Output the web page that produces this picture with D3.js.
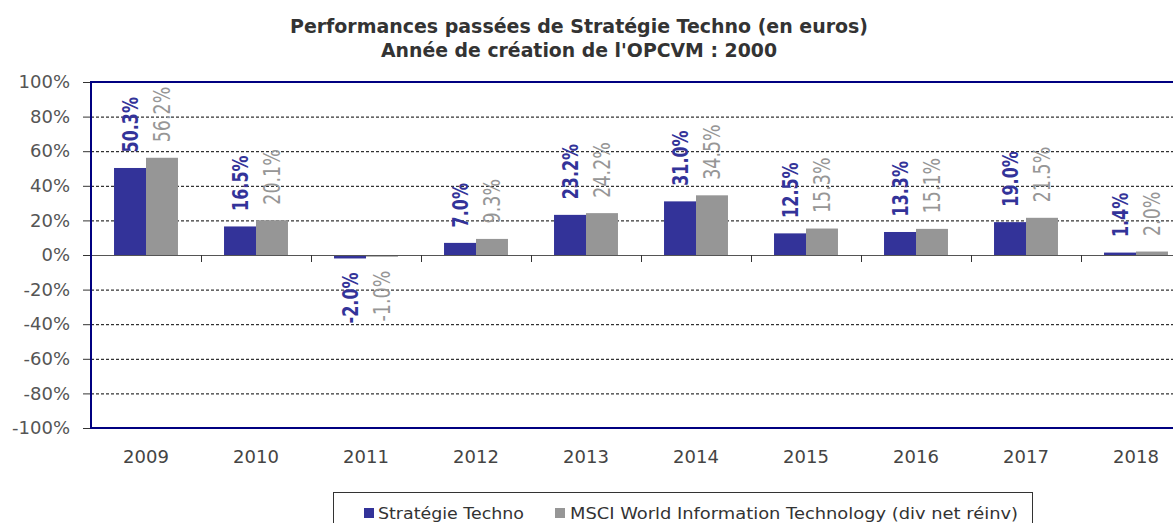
<!DOCTYPE html>
<html><head><meta charset="utf-8">
<script src="https://cdn.jsdelivr.net/npm/d3@7"></script>
<style>body{margin:0;background:#fff}svg{display:block}</style>
</head><body>
<svg id="c" width="1173" height="523"></svg>
<script>
const years = ["2009","2010","2011","2012","2013","2014","2015","2016","2017","2018"];
const fundValues = [50.3,16.5,-2.0,7.0,23.2,31.0,12.5,13.3,19.0,1.4];
const indexValues = [56.2,20.1,-1.0,9.3,24.2,34.5,15.3,15.1,21.5,2.0];
const seriesNames = ["Stratégie Techno","MSCI World Information Technology (div net réinv)"];
const yTicks = [-100,-80,-60,-40,-20,0,20,40,60,80,100];
const titleLines = ["Performances passées de Stratégie Techno (en euros)","Année de création de l'OPCVM : 2000"];

const colors = ["#333399","#969696"];
const svg = d3.select("#c");
const L = 91, R = 1191, T = 82, B = 428;

const x = d3.scaleBand().domain(years).range([L,R]).padding(0);
const xs = d3.scaleBand().domain([0,1]).range([0,x.bandwidth()]).paddingInner(0).paddingOuter(0.72);
const y = d3.scaleLinear().domain([-100,100]).range([B,T]);

// title
const tt = svg.append("g").attr("font-family","'DejaVu Sans',Verdana,sans-serif").attr("font-weight","bold").attr("fill","#333").attr("text-anchor","middle");
tt.append("text").attr("x",579).attr("y",33).attr("font-size",20).attr("textLength",578).attr("lengthAdjust","spacingAndGlyphs").text(titleLines[0]);
tt.append("text").attr("x",579).attr("y",57).attr("font-size",20).attr("textLength",396).attr("lengthAdjust","spacingAndGlyphs").text(titleLines[1]);

// grid
svg.append("g").selectAll("line").data(yTicks.filter(d=>d!==0 && Math.abs(d)!==100)).join("line")
  .attr("x1",L).attr("x2",R).attr("y1",d=>y(d)+0.5).attr("y2",d=>y(d)+0.5)
  .attr("stroke","#000").attr("stroke-width",1).attr("stroke-dasharray","3,2");

// y axis ticks and labels
const ya = svg.append("g").attr("transform",`translate(${L},0)`)
  .call(d3.axisLeft(y).tickValues(yTicks).tickFormat(d=>d+"%").tickSize(8).tickPadding(13));
ya.select(".domain").remove();
ya.selectAll(".tick line").attr("stroke","#333");
ya.selectAll("text").attr("font-family","'DejaVu Sans',Verdana,sans-serif").attr("font-size",18).attr("fill","#555");

// bars
const data = [fundValues, indexValues];
data.forEach((vals,si)=>{
  svg.append("g").selectAll("rect").data(vals).join("rect")
    .attr("x",(d,i)=>x(years[i])+xs(si))
    .attr("width",xs.bandwidth())
    .attr("y",d=>y(Math.max(0,d)))
    .attr("height",d=>Math.abs(y(d)-y(0)))
    .attr("fill",colors[si]);
});

// zero axis with ticks
svg.append("line").attr("x1",L).attr("x2",R).attr("y1",y(0)+0.5).attr("y2",y(0)+0.5).attr("stroke","#555").attr("stroke-width",1);
svg.append("g").selectAll("line").data(years.slice(1)).join("line")
  .attr("x1",d=>x(d)+0.5).attr("x2",d=>x(d)+0.5).attr("y1",y(0)).attr("y2",y(0)+7)
  .attr("stroke","#333");

// plot frame
svg.append("line").attr("x1",L).attr("x2",R).attr("y1",T).attr("y2",T).attr("stroke","#000080").attr("stroke-width",2);
svg.append("line").attr("x1",L).attr("x2",R).attr("y1",B).attr("y2",B).attr("stroke","#000080").attr("stroke-width",2);
svg.append("line").attr("x1",L).attr("x2",L).attr("y1",T-1).attr("y2",B+1).attr("stroke","#000080").attr("stroke-width",2);

// data labels
data.forEach((vals,si)=>{
  svg.append("g").selectAll("text").data(vals).join("text")
    .attr("transform",(d,i)=>{
      const cx = x(years[i])+xs(si)+xs.bandwidth()/2;
      const cy = d>=0 ? y(d)-15.5 : y(d)+14;
      return `translate(${cx},${cy}) rotate(-90) scale(1,1.3)`;
    })
    .attr("dy","0.36em")
    .attr("text-anchor",d=>d>=0?"start":"end")
    .attr("font-family","'DejaVu Sans',Verdana,sans-serif")
    .attr("font-weight",si===0?"bold":"normal")
    .attr("font-size",si===0?16:17.5)
    .attr("fill",colors[si])
    .text(d=>d.toFixed(1)+"%");
});

// x labels
svg.append("g").selectAll("text").data(years).join("text")
  .attr("x",d=>x(d)+x.bandwidth()/2).attr("y",463)
  .attr("text-anchor","middle").attr("font-family","'DejaVu Sans',Verdana,sans-serif")
  .attr("font-size",18).attr("fill","#444").text(d=>d);

// legend
const lg = svg.append("g");
lg.append("rect").attr("x",333.5).attr("y",492.5).attr("width",699).attr("height",40).attr("fill","#fff").attr("stroke","#333");
const legendItems = [{sx:364, tx:378, w:146},{sx:555, tx:570, w:448}];
legendItems.forEach((it,i)=>{
  lg.append("rect").attr("x",it.sx).attr("y",508).attr("width",10).attr("height",10).attr("fill",colors[i]);
  lg.append("text").attr("x",it.tx).attr("y",519).attr("font-family","'DejaVu Sans',Verdana,sans-serif")
    .attr("font-size",16).attr("fill","#333").attr("textLength",it.w).attr("lengthAdjust","spacingAndGlyphs").text(seriesNames[i]);
});
</script>
</body></html>
